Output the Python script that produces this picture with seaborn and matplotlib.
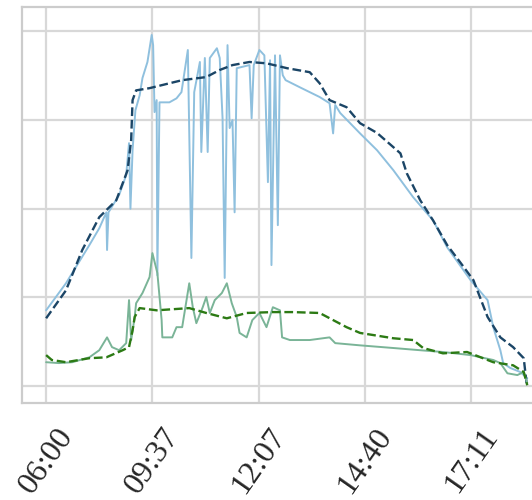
import matplotlib
matplotlib.use("Agg")
import matplotlib.pyplot as plt
import seaborn as sns

# sample index (one step per reading) and measured values
tick_pos = [0, 150, 300, 450, 600]
tick_labels = ["06:00", "09:37", "12:07", "14:40", "17:11"]
y_grid = [0, 200, 400, 600, 800]

# global irradiance, measured (light blue, noisy)
glob_meas_x = [0, 28, 61, 75, 85, 86, 88, 103, 113, 117, 119, 122, 126, 132, 136, 143,
               149, 151, 153, 156, 157, 160, 174, 184, 191, 200, 205, 209, 217, 219,
               224, 228, 231, 241, 245, 249, 252, 256, 259, 263, 266, 269, 287, 290,
               293, 301, 308, 313, 316, 318, 323, 327, 330, 334, 338, 358, 386, 400,
               405, 408, 415, 443, 467, 490, 518, 546, 566, 599, 623, 631, 641, 645,
               655, 669, 679]
glob_meas_y = [171, 232, 318, 356, 392, 307, 392, 431, 476, 548, 400, 532, 622, 656, 695, 731,
               792, 769, 618, 645, 250, 640, 640, 649, 663, 758, 289, 663, 731, 528,
               740, 528, 740, 762, 740, 604, 244, 769, 582, 600, 392, 717, 724, 604,
               724, 758, 746, 460, 735, 273, 746, 363, 746, 701, 690, 674, 652, 638,
               570, 634, 616, 570, 532, 487, 426, 374, 313, 239, 194, 133, 81, 52,
               41, 32, 18]

# global irradiance, clear-sky model (dark blue dashed)
glob_model_x = [0, 28, 51, 75, 99, 115, 120, 122, 127, 146, 192, 226, 245, 263, 287, 311,
                340, 372, 386, 400, 424, 443, 467, 500, 509, 528, 546, 566, 584, 603,
                623, 641, 659, 674, 678]
glob_model_y = [153, 216, 307, 381, 419, 487, 555, 645, 667, 672, 690, 697, 713, 724, 731, 728,
                717, 708, 683, 645, 629, 593, 571, 525, 480, 419, 374, 318, 280, 239,
                156, 110, 88, 63, 7]

# diffuse irradiance, measured (light green)
diff_meas_x = [0, 18, 37, 61, 75, 86, 93, 103, 113, 117, 120, 125, 127, 136, 146, 150,
               157, 163, 164, 178, 184, 192, 202, 207, 212, 221, 226, 231, 238, 248,
               255, 262, 269, 273, 283, 291, 301, 311, 320, 330, 333, 344, 372, 400,
               408, 443, 490, 528, 560, 599, 631, 641, 651, 665, 674, 679]
diff_meas_y = [54, 52, 54, 65, 81, 110, 88, 81, 97, 194, 104, 156, 187, 210, 246, 300,
               255, 149, 110, 110, 133, 133, 232, 178, 142, 178, 201, 165, 194, 210,
               232, 187, 156, 120, 110, 149, 165, 133, 178, 171, 110, 104, 104, 110,
               97, 92, 86, 81, 77, 70, 59, 52, 29, 25, 32, 7]

# diffuse irradiance, model (dark green dashed)
diff_model_x = [0, 8, 28, 61, 85, 108, 117, 122, 125, 132, 156, 202, 226, 255, 283, 320,
                348, 386, 405, 424, 443, 490, 518, 532, 560, 594, 631, 659, 674, 679]
diff_model_y = [70, 59, 54, 63, 65, 81, 88, 126, 156, 176, 171, 176, 165, 153, 165, 167,
                167, 165, 149, 133, 120, 108, 104, 86, 74, 77, 54, 47, 32, 2]

sns.set_theme(style="whitegrid")
plt.rcParams["font.family"] = ["Liberation Serif", "DejaVu Serif"]

fig = plt.figure(figsize=(5.32, 5.0), dpi=100)
ax = fig.add_axes([0.0414, 0.194, 0.995, 0.792])

sns.lineplot(x=glob_meas_x, y=glob_meas_y, ax=ax, color="#8fc0de", linewidth=1.4)
sns.lineplot(x=glob_model_x, y=glob_model_y, ax=ax, color="#1b4566", linewidth=1.7, linestyle="--")
sns.lineplot(x=diff_meas_x, y=diff_meas_y, ax=ax, color="#7ab497", linewidth=1.4)
sns.lineplot(x=diff_model_x, y=diff_model_y, ax=ax, color="#2c7a14", linewidth=1.7, linestyle="--")

ax.set_xlim(-34, 713)
ax.set_ylim(-38, 855)
ax.set_xticks(tick_pos)
ax.set_xticklabels(tick_labels, rotation=55, fontsize=23)
ax.set_yticks(y_grid)
ax.set_yticklabels([])
ax.tick_params(axis="x", pad=14, length=0)
ax.tick_params(axis="y", length=0)
ax.grid(color="#d8d8d8", linewidth=1.6)
for sp in ax.spines.values():
    sp.set_color("#cccccc")
    sp.set_linewidth(1.6)
ax.set_xlabel("")
ax.set_ylabel("")

fig.savefig("out.png", dpi=100)
